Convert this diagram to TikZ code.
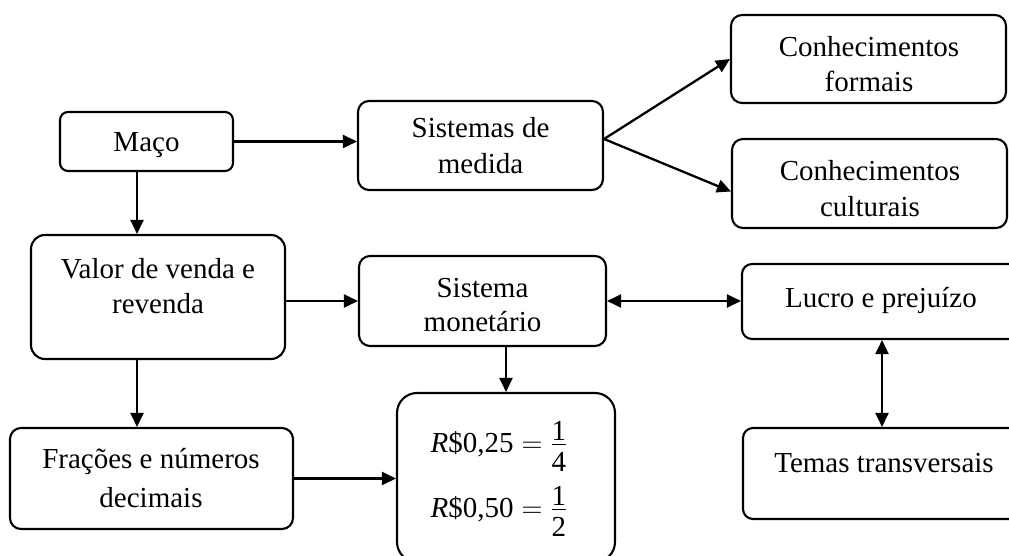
\RequirePackage{fix-cm}
\documentclass[tikz,border=0pt]{standalone}
\usepackage{amsmath}
\usepackage{fontspec}
\setmainfont{Liberation Serif}
\usetikzlibrary{arrows.meta}
\tikzset{
  box/.style={draw, line width=2.1pt, rounded corners=#1, inner sep=0pt},
  box/.default=11pt,
  lbl/.style={anchor=base, inner sep=0pt, font=\fontsize{29}{35}\selectfont},
  arr/.style={line width=2.3pt, -{Triangle[length=14pt,width=13pt]}},
  darr/.style={line width=2.3pt, {Triangle[length=14pt,width=13pt]}-{Triangle[length=14pt,width=13pt]}},
}
\begin{document}
\begin{tikzpicture}[x=1pt,y=-1pt]
\useasboundingbox (0,0) rectangle (1009,556);
\fill[white] (0,0) rectangle (1009,556);
\clip (0,0) rectangle (1009,556);
% boxes
\node[box=8pt, minimum width=173pt, minimum height=59pt] (maco) at (146.5,141.5) {};
\node[box, minimum width=245pt, minimum height=89pt] (sistemas) at (480.5,145.5) {};
\node[box, minimum width=275pt, minimum height=88pt] (formais) at (868.5,59) {};
\node[box, minimum width=275pt, minimum height=89pt] (culturais) at (869.5,183.5) {};
\node[box=14pt, minimum width=254pt, minimum height=124pt] (valor) at (158,297) {};
\node[box, minimum width=247pt, minimum height=90pt] (monet) at (482.5,301) {};
\node[box=10pt, minimum width=280pt, minimum height=75pt] (lucro) at (882,301.5) {};
\node[box, minimum width=283pt, minimum height=101pt] (fracoes) at (151.5,478.5) {};
\node[box=20pt, minimum width=218pt, minimum height=169pt] (formula) at (506,477.5) {};
\node[box=10pt, minimum width=278pt, minimum height=91pt] (temas) at (882,473.5) {};
% labels
\node[lbl] at (146.5,152) {Maço};
\node[lbl] at (480.5,138) {Sistemas de};
\node[lbl] at (480.5,174) {medida};
\node[lbl] at (869,57) {Conhecimentos};
\node[lbl] at (869,92) {formais};
\node[lbl] at (870,181) {Conhecimentos};
\node[lbl] at (870,216) {culturais};
\node[lbl] at (158,278) {Valor de venda e};
\node[lbl] at (158,313) {revenda};
\node[lbl] at (482.5,297) {Sistema};
\node[lbl] at (482.5,331) {monetário};
\node[lbl] at (881,307) {Lucro e prejuízo};
\node[lbl] at (151,468) {Frações e números};
\node[lbl] at (151,507) {decimais};
\node[lbl] at (884,472) {Temas transversais};
\node[lbl] (eqa) at (499,452) {$\text{\itshape R}\text{\$0,25}=\dfrac{\raisebox{-8pt}{1}}{\text{4}}$};
\node[lbl] (eqb) at (499,517) {$\text{\itshape R}\text{\$0,50}=\dfrac{\raisebox{-8pt}{1}}{\text{2}}$};
% connectors
\draw[arr] (maco.east) -- (maco.east -| sistemas.west);
\draw[arr] ([xshift=-9.5pt]maco.south) -- ([xshift=-9.5pt]maco.south |- valor.north);
\draw[arr] ([yshift=6.5pt]sistemas.east) -- (formais.west);
\draw[arr] ([yshift=6.5pt]sistemas.east) -- ([yshift=-8pt]culturais.west);
\draw[arr] (monet.west -| valor.east) -- (monet.west);
\draw[arr] ([xshift=-21pt]valor.south) -- ([xshift=-21pt]valor.south |- fracoes.north);
\draw[arr] (fracoes.east) -- (fracoes.east -| formula.west);
\draw[arr] (formula.north |- monet.south) -- (formula.north);
\draw[darr] (monet.east) -- (monet.east -| lucro.west);
\draw[darr] (lucro.south) -- (lucro.south |- temas.north);
\end{tikzpicture}
\end{document}
